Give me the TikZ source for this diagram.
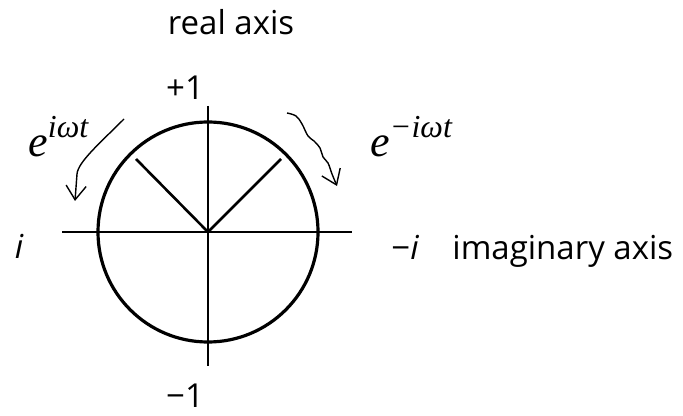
\documentclass[tikz,border=0pt]{standalone}
\usepackage{fontspec}
\setmainfont{Open Sans}
\newfontfamily\timesfont{Liberation Serif}
\usetikzlibrary{arrows.meta}

\begin{document}
\begin{tikzpicture}[
  x=0.5pt, y=-0.5pt,
  every node/.style={font=\fontsize{16.5}{20}\selectfont, inner sep=0pt},
  axis/.style={line width=1.3pt},
  rim/.style={line width=1.6pt},
  spin/.style={line width=0.7pt, -{Straight Barb[length=7pt,width=10pt]}},
  expo/.style={font=\fontsize{22}{26}\selectfont\timesfont\itshape, anchor=base west}
]
\useasboundingbox (0,0) rectangle (683,416);

% centre of the unit circle
\coordinate (O) at (208,232);

% axis ends
\coordinate (top) at (208,106);
\coordinate (bot) at (208,366);
\coordinate (lft) at (62,232);
\coordinate (rgt) at (352,232);

% the circle and its axes
\draw[rim] (O) circle[radius=110];
\draw[axis] (top) -- (bot);
\draw[axis] (lft) -- (rgt);

% two radii at 45 degrees
\coordinate (nw) at (136,159);
\coordinate (ne) at (281,159);
\draw[axis] (O) -- (nw);
\draw[axis] (O) -- (ne);

% labels
\node[anchor=base] (real) at (231,35) {real axis};
\node[anchor=base] (plus) at (185,100) {+1};
\node[anchor=base] (minus) at (185,407) {−1};
\node[anchor=base] (pos) at (19,258) {\itshape i};
\node[anchor=base west] (neg) at (391,259) {−\textit{i}};
\node[anchor=base west] (imag) at (452,259) {imaginary axis};

% rotation senses
\node[expo] (ccw) at (28,157) {e\raisebox{0.95ex}{\fontsize{16}{18}\selectfont iωt}};
\node[expo] (cw) at (370,157) {e\raisebox{0.95ex}{\fontsize{16}{18}\selectfont −iωt}};

\coordinate (a1) at (124,119);
\coordinate (a2) at (75,201);
\draw[spin] (a1) .. controls (100,143) and (78,162) .. (77,174) -- (a2);

\coordinate (b1) at (287,113);
\coordinate (b2) at (337,186);
\draw[spin] plot[smooth, tension=0.6] coordinates {(b1) (296,116) (302,124) (308,136) (314,141) (320,148) (323,157) (328,163) (332,174) (b2)};

\end{tikzpicture}
\end{document}
